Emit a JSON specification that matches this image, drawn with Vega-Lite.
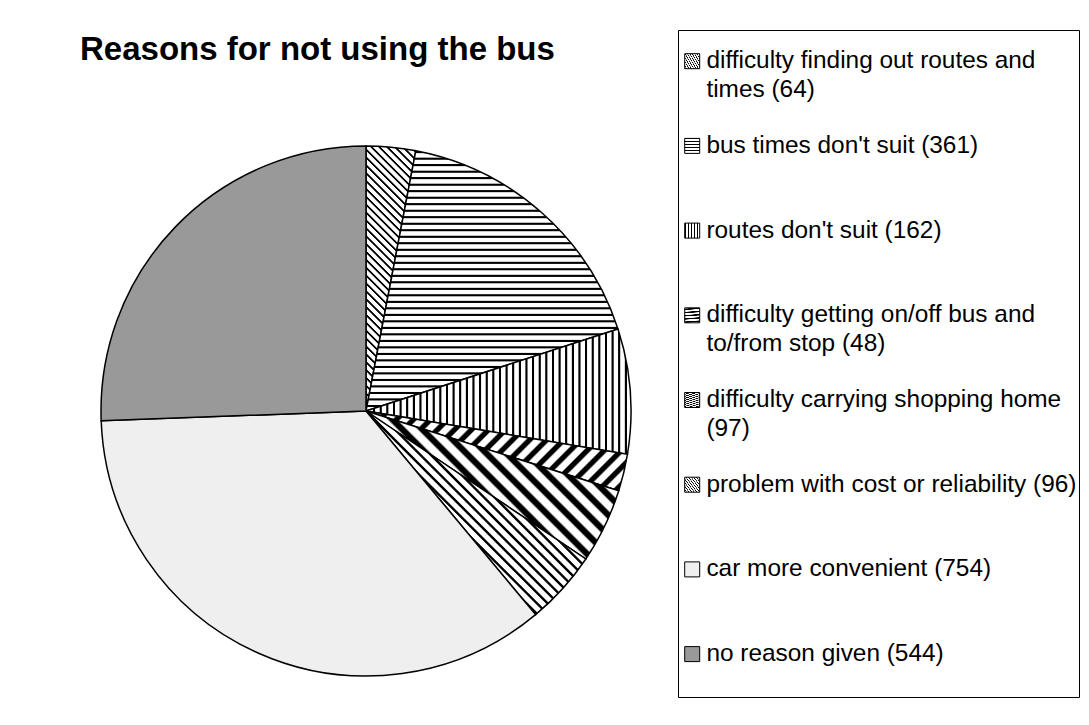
{
  "$schema": "https://vega.github.io/schema/vega-lite/v6.json",
  "width": 530,
  "height": 530,
  "autosize": {"type": "none"},
  "padding": {"left": 101, "top": 146, "right": 458, "bottom": 49},
  "background": "white",
  "title": {
    "text": "Reasons for not using the bus",
    "anchor": "start",
    "frame": "group",
    "orient": "top",
    "baseline": "alphabetic",
    "offset": -63.5,
    "dx": -21,
    "font": "Liberation Sans",
    "fontSize": 33,
    "fontWeight": "bold",
    "color": "black"
  },
  "params": [
    {
      "name": "thinStops",
      "value": [
        {"offset": 0, "color": "#fff"}, {"offset": 0.003, "color": "#000"}, {"offset": 0.008, "color": "#000"}, {"offset": 0.011, "color": "#fff"},
        {"offset": 0.025, "color": "#fff"}, {"offset": 0.028, "color": "#000"}, {"offset": 0.033, "color": "#000"}, {"offset": 0.036, "color": "#fff"},
        {"offset": 0.05, "color": "#fff"}, {"offset": 0.053, "color": "#000"}, {"offset": 0.058, "color": "#000"}, {"offset": 0.061, "color": "#fff"},
        {"offset": 0.075, "color": "#fff"}, {"offset": 0.078, "color": "#000"}, {"offset": 0.083, "color": "#000"}, {"offset": 0.086, "color": "#fff"},
        {"offset": 0.1, "color": "#fff"}, {"offset": 0.103, "color": "#000"}, {"offset": 0.108, "color": "#000"}, {"offset": 0.111, "color": "#fff"},
        {"offset": 0.125, "color": "#fff"}, {"offset": 0.128, "color": "#000"}, {"offset": 0.133, "color": "#000"}, {"offset": 0.136, "color": "#fff"},
        {"offset": 0.15, "color": "#fff"}, {"offset": 0.153, "color": "#000"}, {"offset": 0.158, "color": "#000"}, {"offset": 0.161, "color": "#fff"},
        {"offset": 0.175, "color": "#fff"}, {"offset": 0.178, "color": "#000"}, {"offset": 0.183, "color": "#000"}, {"offset": 0.186, "color": "#fff"},
        {"offset": 0.2, "color": "#fff"}, {"offset": 0.203, "color": "#000"}, {"offset": 0.208, "color": "#000"}, {"offset": 0.211, "color": "#fff"},
        {"offset": 0.225, "color": "#fff"}, {"offset": 0.228, "color": "#000"}, {"offset": 0.233, "color": "#000"}, {"offset": 0.236, "color": "#fff"},
        {"offset": 0.25, "color": "#fff"}, {"offset": 0.253, "color": "#000"}, {"offset": 0.258, "color": "#000"}, {"offset": 0.261, "color": "#fff"},
        {"offset": 0.275, "color": "#fff"}, {"offset": 0.278, "color": "#000"}, {"offset": 0.283, "color": "#000"}, {"offset": 0.286, "color": "#fff"},
        {"offset": 0.3, "color": "#fff"}, {"offset": 0.303, "color": "#000"}, {"offset": 0.308, "color": "#000"}, {"offset": 0.311, "color": "#fff"},
        {"offset": 0.325, "color": "#fff"}, {"offset": 0.328, "color": "#000"}, {"offset": 0.333, "color": "#000"}, {"offset": 0.336, "color": "#fff"},
        {"offset": 0.35, "color": "#fff"}, {"offset": 0.353, "color": "#000"}, {"offset": 0.358, "color": "#000"}, {"offset": 0.361, "color": "#fff"},
        {"offset": 0.375, "color": "#fff"}, {"offset": 0.378, "color": "#000"}, {"offset": 0.383, "color": "#000"}, {"offset": 0.386, "color": "#fff"},
        {"offset": 0.4, "color": "#fff"}, {"offset": 0.403, "color": "#000"}, {"offset": 0.408, "color": "#000"}, {"offset": 0.411, "color": "#fff"},
        {"offset": 0.425, "color": "#fff"}, {"offset": 0.428, "color": "#000"}, {"offset": 0.433, "color": "#000"}, {"offset": 0.436, "color": "#fff"},
        {"offset": 0.45, "color": "#fff"}, {"offset": 0.453, "color": "#000"}, {"offset": 0.458, "color": "#000"}, {"offset": 0.461, "color": "#fff"},
        {"offset": 0.475, "color": "#fff"}, {"offset": 0.478, "color": "#000"}, {"offset": 0.483, "color": "#000"}, {"offset": 0.486, "color": "#fff"},
        {"offset": 0.5, "color": "#fff"}, {"offset": 0.503, "color": "#000"}, {"offset": 0.508, "color": "#000"}, {"offset": 0.511, "color": "#fff"},
        {"offset": 0.525, "color": "#fff"}, {"offset": 0.528, "color": "#000"}, {"offset": 0.533, "color": "#000"}, {"offset": 0.536, "color": "#fff"},
        {"offset": 0.55, "color": "#fff"}, {"offset": 0.553, "color": "#000"}, {"offset": 0.558, "color": "#000"}, {"offset": 0.561, "color": "#fff"},
        {"offset": 0.575, "color": "#fff"}, {"offset": 0.578, "color": "#000"}, {"offset": 0.583, "color": "#000"}, {"offset": 0.586, "color": "#fff"},
        {"offset": 0.6, "color": "#fff"}, {"offset": 0.603, "color": "#000"}, {"offset": 0.608, "color": "#000"}, {"offset": 0.611, "color": "#fff"},
        {"offset": 0.625, "color": "#fff"}, {"offset": 0.628, "color": "#000"}, {"offset": 0.633, "color": "#000"}, {"offset": 0.636, "color": "#fff"},
        {"offset": 0.65, "color": "#fff"}, {"offset": 0.653, "color": "#000"}, {"offset": 0.658, "color": "#000"}, {"offset": 0.661, "color": "#fff"},
        {"offset": 0.675, "color": "#fff"}, {"offset": 0.678, "color": "#000"}, {"offset": 0.683, "color": "#000"}, {"offset": 0.686, "color": "#fff"},
        {"offset": 0.7, "color": "#fff"}, {"offset": 0.703, "color": "#000"}, {"offset": 0.708, "color": "#000"}, {"offset": 0.711, "color": "#fff"},
        {"offset": 0.725, "color": "#fff"}, {"offset": 0.728, "color": "#000"}, {"offset": 0.733, "color": "#000"}, {"offset": 0.736, "color": "#fff"},
        {"offset": 0.75, "color": "#fff"}, {"offset": 0.753, "color": "#000"}, {"offset": 0.758, "color": "#000"}, {"offset": 0.761, "color": "#fff"},
        {"offset": 0.775, "color": "#fff"}, {"offset": 0.778, "color": "#000"}, {"offset": 0.783, "color": "#000"}, {"offset": 0.786, "color": "#fff"},
        {"offset": 0.8, "color": "#fff"}, {"offset": 0.803, "color": "#000"}, {"offset": 0.808, "color": "#000"}, {"offset": 0.811, "color": "#fff"},
        {"offset": 0.825, "color": "#fff"}, {"offset": 0.828, "color": "#000"}, {"offset": 0.833, "color": "#000"}, {"offset": 0.836, "color": "#fff"},
        {"offset": 0.85, "color": "#fff"}, {"offset": 0.853, "color": "#000"}, {"offset": 0.858, "color": "#000"}, {"offset": 0.861, "color": "#fff"},
        {"offset": 0.875, "color": "#fff"}, {"offset": 0.878, "color": "#000"}, {"offset": 0.883, "color": "#000"}, {"offset": 0.886, "color": "#fff"},
        {"offset": 0.9, "color": "#fff"}, {"offset": 0.903, "color": "#000"}, {"offset": 0.908, "color": "#000"}, {"offset": 0.911, "color": "#fff"},
        {"offset": 0.925, "color": "#fff"}, {"offset": 0.928, "color": "#000"}, {"offset": 0.933, "color": "#000"}, {"offset": 0.936, "color": "#fff"},
        {"offset": 0.95, "color": "#fff"}, {"offset": 0.953, "color": "#000"}, {"offset": 0.958, "color": "#000"}, {"offset": 0.961, "color": "#fff"},
        {"offset": 0.975, "color": "#fff"}, {"offset": 0.978, "color": "#000"}, {"offset": 0.983, "color": "#000"}, {"offset": 0.986, "color": "#fff"},
        {"offset": 1, "color": "#fff"}
      ]
    },
    {
      "name": "thickStops",
      "value": [
        {"offset": 0, "color": "#fff"}, {"offset": 0.006, "color": "#000"}, {"offset": 0.022, "color": "#000"}, {"offset": 0.028, "color": "#fff"},
        {"offset": 0.05, "color": "#fff"}, {"offset": 0.056, "color": "#000"}, {"offset": 0.072, "color": "#000"}, {"offset": 0.078, "color": "#fff"},
        {"offset": 0.1, "color": "#fff"}, {"offset": 0.106, "color": "#000"}, {"offset": 0.122, "color": "#000"}, {"offset": 0.128, "color": "#fff"},
        {"offset": 0.15, "color": "#fff"}, {"offset": 0.156, "color": "#000"}, {"offset": 0.172, "color": "#000"}, {"offset": 0.178, "color": "#fff"},
        {"offset": 0.2, "color": "#fff"}, {"offset": 0.206, "color": "#000"}, {"offset": 0.222, "color": "#000"}, {"offset": 0.228, "color": "#fff"},
        {"offset": 0.25, "color": "#fff"}, {"offset": 0.256, "color": "#000"}, {"offset": 0.272, "color": "#000"}, {"offset": 0.278, "color": "#fff"},
        {"offset": 0.3, "color": "#fff"}, {"offset": 0.306, "color": "#000"}, {"offset": 0.322, "color": "#000"}, {"offset": 0.328, "color": "#fff"},
        {"offset": 0.35, "color": "#fff"}, {"offset": 0.356, "color": "#000"}, {"offset": 0.372, "color": "#000"}, {"offset": 0.378, "color": "#fff"},
        {"offset": 0.4, "color": "#fff"}, {"offset": 0.406, "color": "#000"}, {"offset": 0.422, "color": "#000"}, {"offset": 0.428, "color": "#fff"},
        {"offset": 0.45, "color": "#fff"}, {"offset": 0.456, "color": "#000"}, {"offset": 0.472, "color": "#000"}, {"offset": 0.478, "color": "#fff"},
        {"offset": 0.5, "color": "#fff"}, {"offset": 0.506, "color": "#000"}, {"offset": 0.522, "color": "#000"}, {"offset": 0.528, "color": "#fff"},
        {"offset": 0.55, "color": "#fff"}, {"offset": 0.556, "color": "#000"}, {"offset": 0.572, "color": "#000"}, {"offset": 0.578, "color": "#fff"},
        {"offset": 0.6, "color": "#fff"}, {"offset": 0.606, "color": "#000"}, {"offset": 0.622, "color": "#000"}, {"offset": 0.628, "color": "#fff"},
        {"offset": 0.65, "color": "#fff"}, {"offset": 0.656, "color": "#000"}, {"offset": 0.672, "color": "#000"}, {"offset": 0.678, "color": "#fff"},
        {"offset": 0.7, "color": "#fff"}, {"offset": 0.706, "color": "#000"}, {"offset": 0.722, "color": "#000"}, {"offset": 0.728, "color": "#fff"},
        {"offset": 0.75, "color": "#fff"}, {"offset": 0.756, "color": "#000"}, {"offset": 0.772, "color": "#000"}, {"offset": 0.778, "color": "#fff"},
        {"offset": 0.8, "color": "#fff"}, {"offset": 0.806, "color": "#000"}, {"offset": 0.822, "color": "#000"}, {"offset": 0.828, "color": "#fff"},
        {"offset": 0.85, "color": "#fff"}, {"offset": 0.856, "color": "#000"}, {"offset": 0.872, "color": "#000"}, {"offset": 0.878, "color": "#fff"},
        {"offset": 0.9, "color": "#fff"}, {"offset": 0.906, "color": "#000"}, {"offset": 0.922, "color": "#000"}, {"offset": 0.928, "color": "#fff"},
        {"offset": 0.95, "color": "#fff"}, {"offset": 0.956, "color": "#000"}, {"offset": 0.972, "color": "#000"}, {"offset": 0.978, "color": "#fff"},
        {"offset": 1, "color": "#fff"}
      ]
    }
  ],
  "data": {
    "values": [
      {"rank": 1, "reason": "difficulty finding out routes and times (64)", "count": 64},
      {"rank": 2, "reason": "bus times don't suit (361)", "count": 361},
      {"rank": 3, "reason": "routes don't suit (162)", "count": 162},
      {"rank": 4, "reason": "difficulty getting on/off bus and to/from stop (48)", "count": 48},
      {"rank": 5, "reason": "difficulty carrying shopping home (97)", "count": 97},
      {"rank": 6, "reason": "problem with cost or reliability (96)", "count": 96},
      {"rank": 7, "reason": "car more convenient (754)", "count": 754},
      {"rank": 8, "reason": "no reason given (544)", "count": 544}
    ]
  },
  "mark": {"type": "arc", "stroke": "black", "strokeWidth": 1.5},
  "encoding": {
    "theta": {"field": "count", "type": "quantitative", "stack": true},
    "order": {"field": "rank", "type": "quantitative"},
    "fill": {
      "field": "reason",
      "type": "nominal",
      "sort": null,
      "scale": {
        "range": [
          {"expr": "{gradient: 'linear', x1: 0, y1: 1, x2: 0.216, y2: -0.148, stops: thinStops}"},
          {"expr": "{gradient: 'linear', x1: 0, y1: 0, x2: 0, y2: 1, stops: thinStops}"},
          {"expr": "{gradient: 'linear', x1: 0, y1: 0, x2: 1, y2: 0, stops: thinStops}"},
          {"expr": "{gradient: 'linear', x1: 0, y1: 0, x2: 1.194, y2: 0.364, stops: thickStops}"},
          {"expr": "{gradient: 'linear', x1: 0, y1: 1, x2: 1.181, y2: 0.308, stops: thickStops}"},
          {"expr": "{gradient: 'linear', x1: 0, y1: 1, x2: 1.037, y2: 0.04, stops: thinStops}"},
          "#efefef",
          "#999999"
        ]
      },
      "legend": {
        "title": " ",
        "titleFontSize": 12,
        "titlePadding": 5,
        "orient": "none",
        "legendX": 577,
        "legendY": -116,
        "padding": 2,
        "strokeColor": "black",
        "fillColor": "white",
        "symbolType": "square",
        "symbolSize": 225,
        "symbolStrokeColor": "black",
        "symbolStrokeWidth": 1,
        "symbolOffset": 0,
        "symbolOpacity": 1,
        "labelFont": "Liberation Sans",
        "labelFontSize": 24.4,
        "labelColor": "black",
        "labelOffset": 2,
        "labelLimit": 500,
        "labelBaseline": "middle",
        "rowPadding": 30.7,
        "labelExpr": "length(datum.label) > 37 ? [substring(datum.label, 0, lastindexof(substring(datum.label, 0, 35), ' ')), substring(datum.label, lastindexof(substring(datum.label, 0, 35), ' ') + 1)] : [datum.label, '']"
      }
    }
  },
  "config": {
    "view": {"stroke": null},
    "style": {"guide-label": {"lineHeight": 29}}
  }
}
